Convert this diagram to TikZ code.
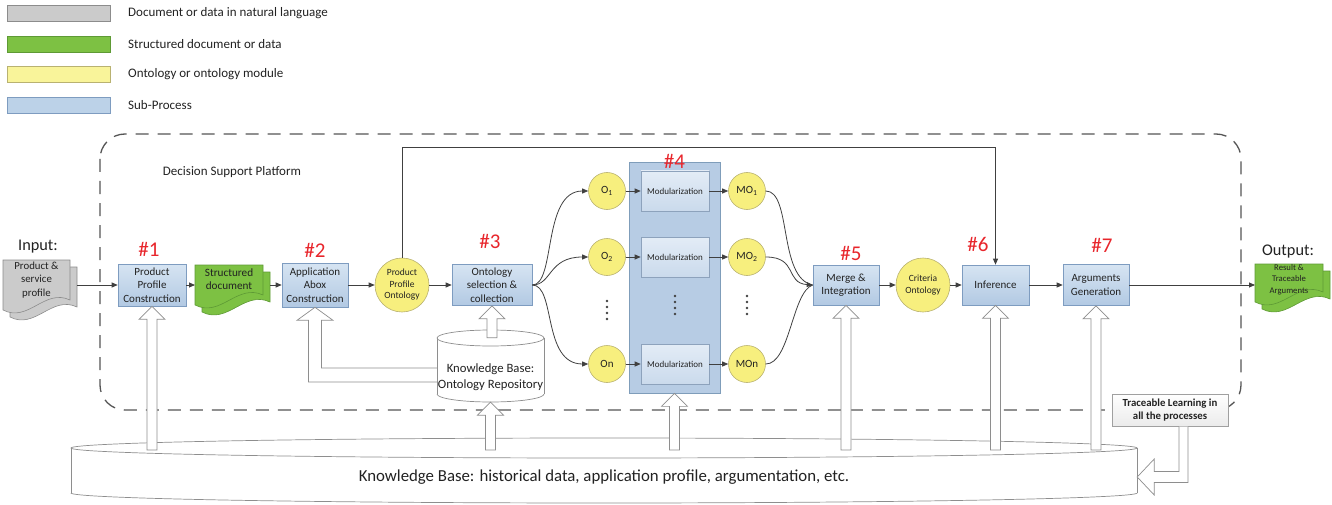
\documentclass[tikz,border=0pt]{standalone}
\usepackage{fontspec}
\setmainfont{Carlito}
\usetikzlibrary{arrows.meta,calc}
\definecolor{procA}{HTML}{D6E4F2}
\definecolor{procB}{HTML}{B2C9E3}
\definecolor{procL}{HTML}{7E9CC0}
\definecolor{bigF}{HTML}{B7CCE4}
\definecolor{bigL}{HTML}{7F9DBA}
\definecolor{modA}{HTML}{E3ECF6}
\definecolor{modB}{HTML}{CADAEC}
\definecolor{modL}{HTML}{8DA2BC}
\definecolor{ontF}{HTML}{F7EF7E}
\definecolor{ontL}{HTML}{B9B271}
\definecolor{grnF}{HTML}{7DC143}
\definecolor{grnL}{HTML}{5E9A35}
\definecolor{gryF}{HTML}{CBCBCB}
\definecolor{gryL}{HTML}{8C8C8C}
\definecolor{lgyF}{HTML}{F9F49A}
\definecolor{lgbF}{HTML}{BCD2E8}
\definecolor{numR}{HTML}{E8262C}
\definecolor{conC}{HTML}{404040}
\definecolor{holC}{HTML}{8E8E8E}
\definecolor{txtC}{HTML}{222222}
\definecolor{dashC}{HTML}{555555}
\definecolor{tlL}{HTML}{A0A0A0}
\definecolor{tlB}{HTML}{EBEBEB}

\newcommand\fatup[2]{\draw[hollow] let \p1=(#1), \p2=(#2) in (\x1-5pt,\y2) -- (\x1-5pt,\y1-13pt) -- (\x1-13pt,\y1-13pt) -- (\x1,\y1) -- (\x1+13pt,\y1-13pt) -- (\x1+5pt,\y1-13pt) -- (\x1+5pt,\y2) -- cycle;}
\newcommand\docpage[6]{\draw[fill=#5,draw=#6,line width=0.6pt] (#1,#2) -- (#3,#2) -- (#3,{#4-10}) .. controls ({#1+0.62*(#3-#1)},{#4-22}) and ({#1+0.38*(#3-#1)},{#4+13}) .. (#1,#4) -- cycle;}

\begin{document}
\begin{tikzpicture}[x=1pt,y=-1pt,
  every node/.style={text=txtC},
  proc/.style={draw=procL, top color=procA, bottom color=procB, line width=0.6pt, align=center, inner sep=1pt, font=\fontsize{11}{13.3}\selectfont},
  bigbox/.style={draw=bigL, fill=bigF, line width=0.7pt, inner sep=0pt},
  modbox/.style={draw=modL, top color=modA, bottom color=modB, line width=0.6pt, minimum width=68pt, minimum height=40pt, inner sep=0pt, font=\fontsize{9}{11}\selectfont},
  ont/.style={circle, draw=ontL, fill=ontF, line width=0.6pt, minimum size=54pt, inner sep=0pt, align=center, font=\fontsize{9.5}{11.5}\selectfont},
  oc/.style={circle, draw=ontL, fill=ontF, line width=0.6pt, minimum size=37pt, inner sep=0pt, font=\fontsize{11}{13}\selectfont},
  legbox/.style={minimum width=103pt, minimum height=16pt, inner sep=0pt, line width=0.6pt},
  legtxt/.style={anchor=west, inner sep=0pt, font=\fontsize{13}{15}\selectfont},
  doctxt/.style={align=center, inner sep=0pt, font=\fontsize{10.8}{13.3}\selectfont},
  num/.style={text=numR, inner sep=0pt, font=\fontsize{21}{24}\selectfont},
  io/.style={inner sep=0pt, font=\fontsize{16.3}{19}\selectfont},
  conn/.style={draw=conC, line width=0.8pt, -{Triangle[length=6pt,width=5pt]}},
  plain/.style={draw=conC, line width=0.8pt},
  hollow/.style={draw=holC, fill=white, line width=0.7pt},
  cyl/.style={draw=holC, line width=0.7pt},
  tlbox/.style={draw=tlL, top color=white, bottom color=tlB, line width=0.6pt, minimum width=116pt, minimum height=32pt, inner sep=0pt, align=center, font=\bfseries\fontsize{10.8}{13}\selectfont}
]
\useasboundingbox (0,0) rectangle (1332,505);

% legend
\node[legbox, fill=gryF, draw=gryL] (lg1) at (59,13) {};
\node[legtxt] (lt1) at (128,13) {Document or data in natural language};
\node[legbox, fill=grnF, draw=grnL] (lg2) at (59,44) {};
\node[legtxt] (lt2) at (128,44) {Structured document or data};
\node[legbox, fill=lgyF, draw=ontL] (lg3) at (59,74.5) {};
\node[legtxt] (lt3) at (128,74.5) {Ontology or ontology module};
\node[legbox, fill=lgbF, draw=procL] (lg4) at (59,105) {};
\node[legtxt] (lt4) at (128,105) {Sub-Process};

% platform frame
\draw[dashC, line width=1.3pt, dash pattern=on 13pt off 9pt, rounded corners=25pt] (100,134) rectangle (1241,410);
\node[inner sep=0pt, font=\fontsize{13}{15}\selectfont] (dsp) at (232,172) {Decision Support Platform};

% bottom knowledge base cylinder
\fill[white] (71,448) rectangle (1137,493);
\draw[cyl] (71,448) -- (71,493);
\draw[cyl] (1137,448) -- (1137,493);
\begin{scope}
\clip (0,493) rectangle (1332,506);
\draw[cyl] (604,493) ellipse [x radius=533pt, y radius=10pt];
\end{scope}
\draw[cyl] (604,448) ellipse [x radius=533pt, y radius=10pt];
\node[minimum width=1066pt, minimum height=55pt, inner sep=0pt, font=\fontsize{16.8}{19}\selectfont] (kb) at (604,477) {Knowledge Base: historical data, application profile, argumentation, etc.};
\coordinate (kbtop) at (604,450);

% documents
\docpage{10}{267}{77}{317}{gryF}{gryL}
\docpage{3}{260}{70}{310}{gryF}{gryL}
\node[doctxt] (inp) at (36.5,280) {Product \&\\service\\profile};
\coordinate (inpR) at (77,285);
\node[io] (inlbl) at (38,247) {Input:};

\docpage{202}{272}{270}{312}{grnF}{grnL}
\docpage{195}{265}{263}{305}{grnF}{grnL}
\node[doctxt, font=\fontsize{11.2}{13}\selectfont] (sdoc) at (229,279.5) {Structured\\document};
\coordinate (sdocL) at (195,285);
\coordinate (sdocR) at (270,285);

\docpage{1262}{271}{1330}{309}{grnF}{grnL}
\docpage{1255}{264}{1323}{302}{grnF}{grnL}
\node[doctxt, font=\fontsize{8.7}{11.5}\selectfont] (odoc) at (1289,279.5) {Result \&\\Traceable\\Arguments};
\coordinate (outL) at (1255,285);
\node[io] (outlbl) at (1288,252) {Output:};

% #4 container
\node[bigbox, minimum width=91pt, minimum height=231pt] (p4) at (674.5,277.5) {};

% process boxes and ontologies
\node[proc, minimum width=68pt, minimum height=42pt] (b1) at (152,285) {Product\\Profile\\Construction};
\node[proc, minimum width=66pt, minimum height=44pt] (b2) at (315,285) {Application\\Abox\\Construction};
\node[ont] (ppo) at (402,285) {Product\\Profile\\Ontology};
\node[proc, minimum width=80pt, minimum height=41pt] (b3) at (492,285) {Ontology\\selection \&\\collection};
\node[proc, minimum width=66pt, minimum height=40pt] (b5) at (846,285) {Merge \&\\Integration};
\node[ont] (crit) at (923,285) {Criteria\\Ontology};
\node[proc, minimum width=67pt, minimum height=40pt] (b6) at (995.5,285) {Inference};
\node[proc, minimum width=66pt, minimum height=41pt] (b7) at (1096,285) {Arguments\\Generation};

% ontology repository cylinder
\fill[white] (437,338) rectangle (544,394);
\draw[cyl] (437,338) -- (437,394);
\draw[cyl] (544,338) -- (544,394);
\begin{scope}
\clip (400,394) rectangle (580,410);
\draw[cyl] (490.5,394) ellipse [x radius=53.5pt, y radius=8pt];
\end{scope}
\draw[cyl, fill=white] (490.5,338) ellipse [x radius=53.5pt, y radius=8pt];
\node[minimum width=107pt, minimum height=50pt, inner sep=0pt, align=center, font=\fontsize{12.7}{16}\selectfont] (repo) at (490.5,377) {Knowledge Base:\\Ontology Repository};

% hollow arrows
\fatup{b1.south}{kbtop}
\fatup{repo.south}{kbtop}
\fatup{p4.south}{kbtop}
\fatup{b5.south}{kbtop}
\fatup{b6.south}{kbtop}
\fatup{b7.south}{kbtop}
\fatup{b3.south}{$(repo.north)+(0,-14)$}
\draw[hollow] let \p1=(b2.south), \p2=(repo.west) in (\x2,\y2-5pt) -- (\x1-6.5pt,\y2-5pt) -- (\x1-6.5pt,\y1-13pt) -- (\x1-18pt,\y1-13pt) -- (\x1,\y1) -- (\x1+18pt,\y1-13pt) -- (\x1+6.5pt,\y1-13pt) -- (\x1+6.5pt,\y2+9pt) -- (\x2,\y2+9pt);

% #4 contents
\node[oc] (o1) at (607,191) {O\textsubscript{1}};
\node[oc] (o2) at (607,257) {O\textsubscript{2}};
\node[oc] (on) at (607,364) {On};
\node[modbox] (m1) at (675,191) {Modularization};
\node[modbox] (m2) at (675,257) {Modularization};
\node[modbox] (mn) at (675,364) {Modularization};
\node[oc] (mo1) at (747,191) {MO\textsubscript{1}};
\node[oc] (mo2) at (747,257) {MO\textsubscript{2}};
\node[oc] (mon) at (747,364) {MOn};
\foreach \yy in {301,307,313,319} \fill[conC] (607,\yy) circle (1.4pt);
\foreach \yy in {296,302,308,314} {\fill[conC] (675,\yy) circle (1.4pt); \fill[conC] (747,\yy) circle (1.4pt);}

% step numbers
\node[num] (n1) at (149,249) {\#1};
\node[num] (n2) at (315,250) {\#2};
\node[num] (n3) at (490,241) {\#3};
\node[num] (n4) at (p4.north) {\#4};
\node[num] (n5) at (851,253) {\#5};
\node[num] (n6) at (978,244) {\#6};
\node[num] (n7) at (1102,245) {\#7};

% connectors
\draw[conn] (inpR) -- (b1.west);
\draw[conn] (b1.east) -- (sdocL);
\draw[conn] (sdocR) -- (b2.west);
\draw[conn] (b2.east) -- (ppo.west);
\draw[conn] (ppo.east) -- (b3.west);
\draw[conn] (b3.east) .. controls (556,285) and (542,191) .. (o1.west);
\draw[conn] (b3.east) .. controls (552,285) and (548,257) .. (o2.west);
\draw[conn] (b3.east) .. controls (556,285) and (542,364) .. (on.west);
\draw[conn] (o1.east) -- (m1.west);
\draw[conn] (o2.east) -- (m2.west);
\draw[conn] (on.east) -- (mn.west);
\draw[conn] (m1.east) -- (mo1.west);
\draw[conn] (m2.east) -- (mo2.west);
\draw[conn] (mn.east) -- (mon.west);
\draw[plain] (mo1.east) .. controls (792,191) and (778,278) .. (b5.west);
\draw[conn] (mo2.east) .. controls (798,257) and (785,283) .. (b5.west);
\draw[plain] (mon.east) .. controls (790,364) and (792,292) .. (b5.west);
\draw[conn] (b5.east) -- (crit.west);
\draw[conn] (crit.east) -- (b6.west);
\draw[conn] (b6.east) -- (b7.west);
\draw[conn] (b7.east) -- (outL);
\draw[conn] (ppo.north) -- ++(0,-110) -| (b6.north);

% traceable learning
\node[tlbox] (tl) at (1170,410) {Traceable Learning in\\all the processes};
\draw[hollow] let \p1=(tl.south), \p2=(kb.east) in (\x1+9pt,\y1-0.4pt) -- (\x1+9pt,\y2+5.5pt) -- (\x2+17pt,\y2+5.5pt) -- (\x2+17pt,\y2+18pt) -- (\x2,\y2) -- (\x2+17pt,\y2-18pt) -- (\x2+17pt,\y2-5.5pt) -- (\x1+18pt,\y2-5.5pt) -- (\x1+18pt,\y1-0.4pt);
\end{tikzpicture}
\end{document}
